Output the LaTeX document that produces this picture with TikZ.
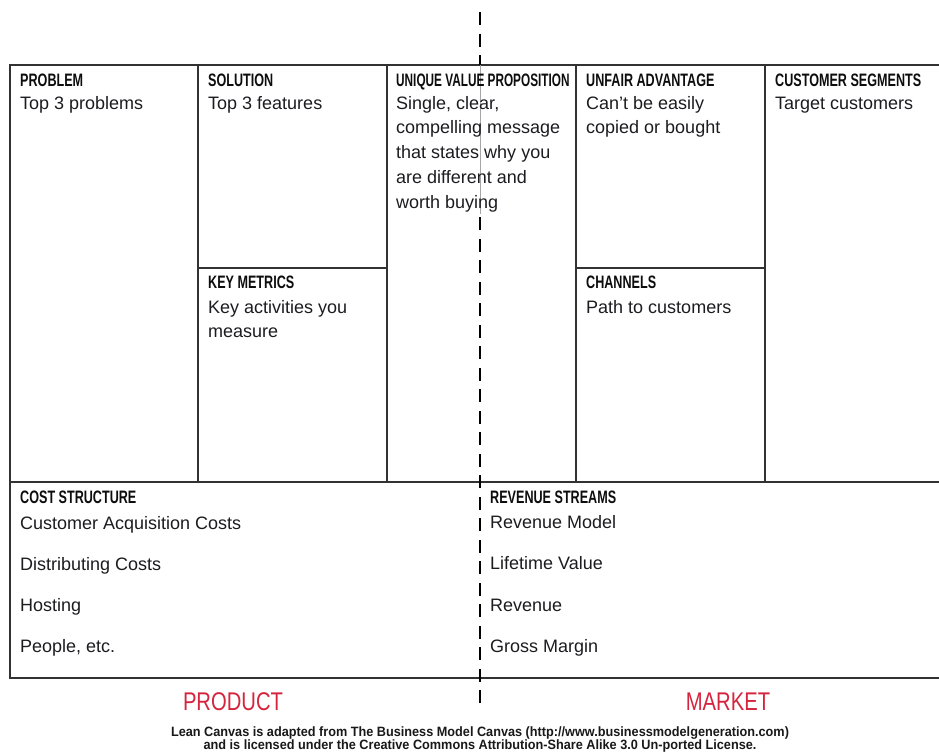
\documentclass[tikz,border=0pt]{standalone}
\usepackage{fontspec}
\setmainfont{Liberation Sans}
\newfontfamily\headfont[FakeStretch=0.7]{Liberation Sans}
\newfontfamily\uvpfont[FakeStretch=0.655]{Liberation Sans}
\newfontfamily\markfont[FakeStretch=0.79]{Liberation Sans}
\newfontfamily\footfont[FakeStretch=0.94]{Liberation Sans}
\definecolor{gridc}{RGB}{50,50,50}
\definecolor{redc}{RGB}{212,36,62}
\definecolor{txtc}{RGB}{28,28,32}
\tikzset{
  grid line/.style={draw=gridc, line width=2pt},
  split line/.style={draw=black, line width=2.2pt, dash pattern=on 13pt off 8.5pt},
  hd/.style={anchor=base west, inner sep=0pt, text=black!95, font=\headfont\bfseries\fontsize{18}{20}\selectfont},
  hduvp/.style={hd, font=\uvpfont\bfseries\fontsize{18}{20}\selectfont},
  bd/.style={anchor=base west, inner sep=0pt, text=txtc, font=\fontsize{18}{22}\selectfont},
  side/.style={anchor=base, inner sep=0pt, text=redc, font=\markfont\fontsize{25.6}{28}\selectfont},
  foot/.style={anchor=base, inner sep=0pt, text=black!90, font=\footfont\bfseries\fontsize{13.5}{15}\selectfont}
}
\begin{document}
\begin{tikzpicture}[x=1pt,y=-1pt]
\useasboundingbox (0,0) rectangle (939,753);
% grid
\draw[grid line] (939,65) -- (10,65) -- (10,678) -- (939,678);
\draw[grid line] (10,482) -- (939,482);
\foreach \xx in {198,387,576,765} \draw[grid line] (\xx,65) -- (\xx,482);
\draw[grid line] (198,268) -- (387,268);
\draw[grid line] (576,268) -- (765,268);
% product / market split
\draw[split line] (480,12) -- (480,65);
\draw[draw=black!35, line width=1pt] (480,65) -- (480,214);
\draw[split line] (480,703) -- (480,214);
% top row
\node[hd] (probH) at (20,86) {PROBLEM};
\node[bd] (probB) at (20,109) {Top 3 problems};
\node[hd] (solH) at (208,86) {SOLUTION};
\node[bd] (solB) at (208,109) {Top 3 features};
\node[hduvp] (uvpH) at (396,86) {UNIQUE VALUE PROPOSITION};
\node[bd] (uvp1) at (396,109) {Single, clear,};
\node[bd] (uvp2) at (396,133.8) {compelling message};
\node[bd] (uvp3) at (396,158.6) {that states why you};
\node[bd] (uvp4) at (396,183.4) {are different and};
\node[bd] (uvp5) at (396,208.2) {worth buying};
\node[hd] (unfH) at (586,86) {UNFAIR ADVANTAGE};
\node[bd] (unf1) at (586,109) {Can’t be easily};
\node[bd] (unf2) at (586,133.8) {copied or bought};
\node[hd] (cusH) at (775,86) {CUSTOMER SEGMENTS};
\node[bd] (cusB) at (775,109) {Target customers};
% middle row
\node[hd] (kmH) at (208,288) {KEY METRICS};
\node[bd] (km1) at (208,313) {Key activities you};
\node[bd] (km2) at (208,337.8) {measure};
\node[hd] (chH) at (586,288) {CHANNELS};
\node[bd] (chB) at (586,313) {Path to customers};
% bottom row
\node[hd] (costH) at (20,503) {COST STRUCTURE};
\node[bd] (cost1) at (20,529.5) {Customer Acquisition Costs};
\node[bd] (cost2) at (20,570) {Distributing Costs};
\node[bd] (cost3) at (20,611) {Hosting};
\node[bd] (cost4) at (20,652) {People, etc.};
\node[hd] (revH) at (490,503) {REVENUE STREAMS};
\node[bd] (rev1) at (490,528.5) {Revenue Model};
\node[bd] (rev2) at (490,569.5) {Lifetime Value};
\node[bd] (rev3) at (490,611) {Revenue};
\node[bd] (rev4) at (490,652) {Gross Margin};
% labels
\node[side] (product) at (233,710) {PRODUCT};
\node[side] (market) at (728,710) {MARKET};
\node[foot] (foot1) at (480,736.5) {Lean Canvas is adapted from The Business Model Canvas (http://www.businessmodelgeneration.com)};
\node[foot] (foot2) at (480,749) {and is licensed under the Creative Commons Attribution-Share Alike 3.0 Un-ported License.};
\end{tikzpicture}
\end{document}
